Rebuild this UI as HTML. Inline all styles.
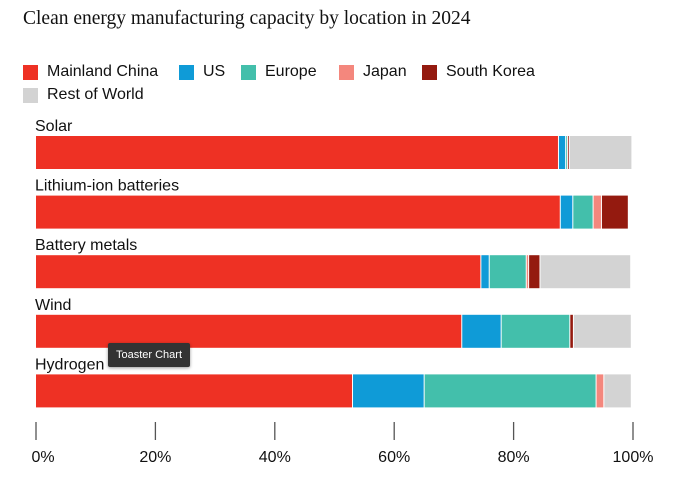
<!DOCTYPE html>
<html><head><meta charset="utf-8"><style>
body{margin:0;width:680px;height:491px;background:#fff;font-family:"Liberation Sans",Arial,sans-serif;position:relative;overflow:hidden}
.title{position:absolute;left:23px;top:8px;font-family:"Liberation Serif",serif;font-size:19.5px;color:#111}
.leg{position:absolute;font-size:16px;color:#111;display:flex;align-items:center}
.sw{width:15px;height:15px;margin-right:9px}
.tip{position:absolute;left:108px;top:343px;width:82px;height:24px;background:#333;color:#fff;font-size:11px;line-height:24px;text-align:center;box-shadow:0 1px 3px rgba(0,0,0,.4);border-radius:2px}
</style></head><body>
<div class="title">Clean energy manufacturing capacity by location in 2024</div>
<div id="legend"></div>
<svg id="chart" width="680" height="491" style="position:absolute;left:0;top:0"></svg>
<div class="tip">Toaster Chart</div>
<script>
const categories=["Solar","Lithium-ion batteries","Battery metals","Wind","Hydrogen"];
const seriesNames=["Mainland China","US","Europe","Japan","South Korea","Rest of World"];
const china=[87.6,87.9,74.6,71.4,53.1];
const us=[1.2,2.1,1.4,6.6,12.0];
const europe=[0.3,3.4,6.2,11.5,28.8];
const japan=[0,1.4,0.4,0,1.3];
const korea=[0.3,4.5,1.9,0.6,0];
const rest=[10.5,0,15.2,9.7,4.6];
const ticks=[0,20,40,60,80,100];
const colors=["#ee3124","#0f9bd7","#43bfab","#f4877d","#941a0f","#d3d3d3"];
const series=[china,us,europe,japan,korea,rest];
const NS="http://www.w3.org/2000/svg";
const svg=document.getElementById('chart');
const x=v=>36+v*5.97;
const yRow=i=>136+i*59.6;
const legPos=[[23,72],[179,72],[241,72],[339,72],[422,72],[23,95]];
seriesNames.forEach((n,i)=>{
 const d=document.createElement('div');d.className='leg';
 
 
 d.style.left=legPos[i][0]+'px';d.style.top=(legPos[i][1]-9)+'px';
 d.innerHTML='<div class="sw" style="background:'+colors[i]+'"></div>'+n;
 document.body.appendChild(d);
});
categories.forEach((c,i)=>{
 const t=document.createElementNS(NS,'text');
 t.setAttribute('x',35);t.setAttribute('y',yRow(i)-5);
 t.setAttribute('font-size','16');t.setAttribute('fill','#111');
 t.setAttribute('font-family','Liberation Sans, sans-serif');
 t.textContent=c;
 
 
 svg.appendChild(t);
 let acc=0;
 series.forEach((s,k)=>{
  const v=s[i];if(v<=0)return;
  const r=document.createElementNS(NS,'rect');
  r.setAttribute('x',x(acc));r.setAttribute('y',yRow(i));
  r.setAttribute('width',Math.max(v*5.97-1,0.8));r.setAttribute('height',33);
  r.setAttribute('fill',colors[k]);
  
  
  svg.appendChild(r);
  acc+=v;
 });
});
ticks.forEach(tk=>{
 const l=document.createElementNS(NS,'line');
 l.setAttribute('x1',x(tk));l.setAttribute('x2',x(tk));l.setAttribute('y1',422);l.setAttribute('y2',440);
 l.setAttribute('stroke','#555');l.setAttribute('stroke-width','1.3');
 
 
 svg.appendChild(l);
 const t=document.createElementNS(NS,'text');
 t.setAttribute('x',x(tk)+ (tk==0?7:0));t.setAttribute('y',462);t.setAttribute('text-anchor','middle');
 t.setAttribute('font-size','16');t.setAttribute('fill','#111');
 t.setAttribute('font-family','Liberation Sans, sans-serif');
 t.textContent=tk+'%';
 
 
 svg.appendChild(t);
});
</script>
</body></html>
